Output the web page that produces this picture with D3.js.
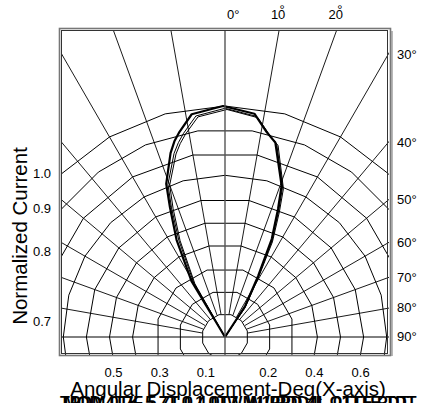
<!DOCTYPE html>
<html><head><meta charset="utf-8">
<script src="https://cdn.jsdelivr.net/npm/d3@7"></script>
<style>body{margin:0;background:#fff}svg{display:block}text{font-family:"Liberation Sans",Arial,sans-serif}</style>
</head><body>
<svg id="c" width="421" height="403"></svg>
<script>
// ---- data ----
const ringValues = [0.1,0.2,0.3,0.4,0.5,0.6,0.7,0.8,0.9,1.0];
const radialAngles = [-80,-70,-60,-50,-40,-30,-20,-10,10,20,30,40,50,60,70,80];
const topLabels = ["0°","10","20"];
const topLabelAngles = [0,10,20];
const rightLabels = ["30°","40°","50°","60°","70°","80°","90°"];
const rightLabelAngles = [30,40,50,60,70,80,90];
const leftLabels = ["1.0","0.9","0.8","0.7"];
const bottomLabelsLeft = ["0.5","0.3","0.1"];
const bottomLabelsRight = ["0.2","0.4","0.6"];

const anglesA = [-90,-31,-26.5,-23,-21,-16.5,-14.5,-12.5,-8.5,-0.5,7.5,11.5,14.5,20.5,22.5,25.5,28.5,33,90];
const valuesA = [0,0.28,0.47,0.61,0.71,0.83,0.875,0.91,0.975,1.0,0.975,0.905,0.87,0.70,0.60,0.47,0.30,0.16,0];
const anglesB = [-90,-30,-25.5,-22.5,-20.5,-15.5,-13.5,-11.5,-7.5,0,8,12,15,21,23,26,29,34,90];
const valuesB = [0,0.27,0.465,0.605,0.705,0.825,0.865,0.90,0.965,0.99,0.965,0.90,0.865,0.695,0.595,0.465,0.295,0.155,0];
const anglesC = [-90,-29.5,-25,-22,-20,-15,-13,-11,-7,0.5,8.5,12.5,15.5,21.5,23.5,26.5,29.5,34.5,90];
const valuesC = [0,0.265,0.46,0.60,0.70,0.82,0.86,0.895,0.96,0.985,0.96,0.895,0.86,0.69,0.59,0.46,0.29,0.15,0];

const xTitle = "Angular Displacement-Deg(X-axis)";
const yTitle = "Normalized Current";
const footA = "TPDM 0TK-5.7T  0.1  0TW  W1/PDD4L-01TTE  TDT";
const footB = "MOD  4T7F  5.7T  0.4  0T7  M1/PPD.4L  ΩTTE PDT";

// ---- layout ----
const cx = 225, cy = 337;
const frame = {x0: 61, y0: 30, x1: 389, y1: 355};
const r = d3.scaleLinear().domain([0,1]).range([0,231]);
const ringStep = [30,30,30,20,20,20,15,20,15,15];
const ringOffset = [15,15,15,10,10,10,0,10,7.5,0];
const rad = d => d*Math.PI/180;

const svg = d3.select("#c");
svg.append("defs").append("clipPath").attr("id","clip")
  .append("rect").attr("x",frame.x0).attr("y",frame.y0)
  .attr("width",frame.x1-frame.x0).attr("height",frame.y1-frame.y0);

const g = svg.append("g").attr("clip-path","url(#clip)");
const gc = g.append("g").attr("transform",`translate(${cx},${cy})`);

// rings (polygonal)
const ringLine = d3.lineRadial().angle(d=>rad(d[0])).radius(d=>r(d[1])).curve(d3.curveLinearClosed);
ringValues.forEach((v,i)=>{
  const pts = d3.range(ringOffset[i]-180, 180, ringStep[i]).map(a=>[a,v]);
  gc.append("path").attr("d",ringLine(pts)).attr("fill","none").attr("stroke","#000").attr("stroke-width",1);
});

// radial lines
radialAngles.forEach(a=>{
  const p0 = d3.pointRadial(rad(a), r(ringValues[0]));
  const p1 = d3.pointRadial(rad(a), 600);
  gc.append("line").attr("x1",p0[0]).attr("y1",p0[1]).attr("x2",p1[0]).attr("y2",p1[1])
    .attr("stroke","#000").attr("stroke-width",0.9);
});
// horizontal (±90) and vertical (0) full lines
g.append("line").attr("x1",frame.x0).attr("x2",frame.x1).attr("y1",cy).attr("y2",cy)
  .attr("stroke","#000").attr("stroke-width",1);
g.append("line").attr("x1",cx).attr("x2",cx).attr("y1",frame.y0).attr("y2",frame.y1)
  .attr("stroke","#555").attr("stroke-width",1.4);

// polar curves
const curve = d3.lineRadial().angle(d=>rad(d[0])).radius(d=>r(d[1]));
[[anglesA,valuesA,2.2],[anglesB,valuesB,1],[anglesC,valuesC,1]].forEach(([an,va,w])=>{
  const pts = an.map((a,i)=>[a,va[i]]);
  gc.append("path").attr("d",curve(pts)).attr("fill","none").attr("stroke","#000")
    .attr("stroke-width",w).attr("stroke-linejoin","round");
});

// frame
svg.append("rect").attr("x",59.5).attr("y",28.5).attr("width",331).attr("height",327)
  .attr("fill","none").attr("stroke","#777").attr("stroke-width",1.6);
svg.append("rect").attr("x",61.5).attr("y",30.5).attr("width",326).attr("height",323)
  .attr("fill","none").attr("stroke","#333").attr("stroke-width",1);
svg.append("line").attr("x1",392).attr("x2",392).attr("y1",31).attr("y2",356)
  .attr("stroke","#888").attr("stroke-width",1.2);

// labels
const fs = 13;
topLabels.forEach((t,i)=>{
  const a = topLabelAngles[i];
  const x = cx + (cy-frame.y0)*Math.tan(rad(a));
  if (t.includes("°")) {
    svg.append("text").attr("x",x+2).attr("y",19).attr("font-size",fs).text(t);
  } else {
    svg.append("text").attr("x",x-1).attr("y",19).attr("font-size",fs).attr("text-anchor","middle").text(t);
    svg.append("text").attr("x",x+3).attr("y",14).attr("font-size",fs).attr("text-anchor","middle").text("°");
  }
});
rightLabels.forEach((t,i)=>{
  const a = rightLabelAngles[i];
  const y = cy - (frame.x1-1-cx)/Math.tan(rad(a));
  svg.append("text").attr("x",397).attr("y",y+4).attr("font-size",fs).text(t);
});
const lblRings = [1.0,0.9,0.8,0.7];
leftLabels.forEach((t,i)=>{
  const rr = r(lblRings[i]), dx = cx-frame.x0;
  const y = Math.min(cy - Math.sqrt(Math.max(rr*rr-dx*dx,0)), cy-15);
  svg.append("text").attr("x",33).attr("y",y+4).attr("font-size",fs).text(t);
});
bottomLabelsLeft.forEach(t=>{
  svg.append("text").attr("x",cx - r(+t)+4).attr("y",377).attr("font-size",fs).attr("text-anchor","middle").text(t);
});
bottomLabelsRight.forEach(t=>{
  svg.append("text").attr("x",cx + r(+t)-3).attr("y",377).attr("font-size",fs).attr("text-anchor","middle").text(t);
});

svg.append("text").attr("x",228).attr("y",396).attr("font-size",20.5).attr("text-anchor","middle").text(xTitle);
svg.append("text").attr("transform","translate(27,236) rotate(-90)").attr("font-size",20.5)
  .attr("text-anchor","middle").text(yTitle);

svg.append("text").attr("x",60).attr("y",408).attr("font-size",16).attr("font-weight","bold").text(footA);
svg.append("text").attr("x",64).attr("y",408).attr("font-size",16).attr("font-weight","bold").text(footB);
</script>
</body></html>
